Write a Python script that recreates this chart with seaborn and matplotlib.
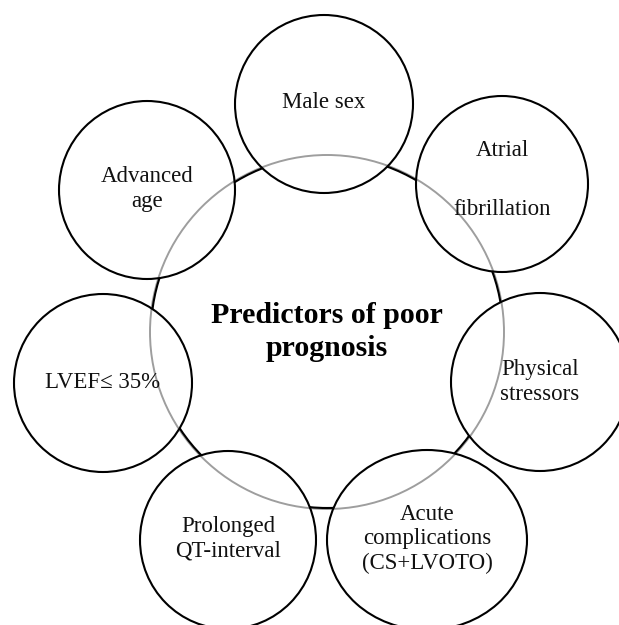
import matplotlib
matplotlib.use('Agg')
import matplotlib.pyplot as plt
import seaborn as sns
from matplotlib.patches import Circle, Ellipse

# node labels (one per outer circle)
labels = ['Male sex', 'Atrial\n\nfibrillation', 'Physical\nstressors',
          'Acute\ncomplications\n(CS+LVOTO)', 'Prolonged\nQT-interval',
          'LVEF\u2264 35%', 'Advanced\nage']
center_label = 'Predictors of poor\nprognosis'

# layout in pixel coords (x, y, half-width, half-height)
node_x = [324, 502, 540, 427, 228, 103, 147]
node_y = [104, 184, 382, 540, 540, 383, 190]
node_rx = [89, 86, 89, 100, 88, 89, 88]
node_ry = [89, 88, 89, 90, 89, 89, 89]
text_y = [103, 180, 382, 539, 539, 383, 189]
spacing = [1.2, 1.56, 1.2, 1.2, 1.2, 1.2, 1.2]
hub = (327, 332)
hub_r = 176

sns.set_theme(style='white')
plt.rcParams['font.family'] = ['Liberation Serif', 'DejaVu Serif']

fig = plt.figure(figsize=(6.19, 6.25), dpi=100)
ax = fig.add_axes([0, 0, 1, 1])
ax.set_xlim(0, 619)
ax.set_ylim(625, 0)
ax.set_aspect('equal')
ax.axis('off')

# hub outline, hidden by the nodes
ax.add_patch(Circle(hub, hub_r, fill=False, ec='black', lw=1.5, zorder=1))

for lab, x, y, rx, ry, ty, ls in zip(labels, node_x, node_y, node_rx, node_ry, text_y, spacing):
    ax.add_patch(Ellipse((x, y), 2 * rx, 2 * ry, fc='white', ec='black', lw=1.5, zorder=2))
    ax.text(x, ty, lab, ha='center', va='center', fontsize=16.5, linespacing=ls,
            color='#111111', zorder=4)

# faint ring drawn over everything
ax.add_patch(Circle(hub, hub_r + 1, fill=False, ec='black', alpha=0.38, lw=1.4, zorder=3))

ax.text(hub[0], hub[1], center_label, ha='center', va='center', fontsize=21.5,
        fontweight='bold', linespacing=1.3, color='black', zorder=4)

fig.savefig('out.png', dpi=100, facecolor='white')
